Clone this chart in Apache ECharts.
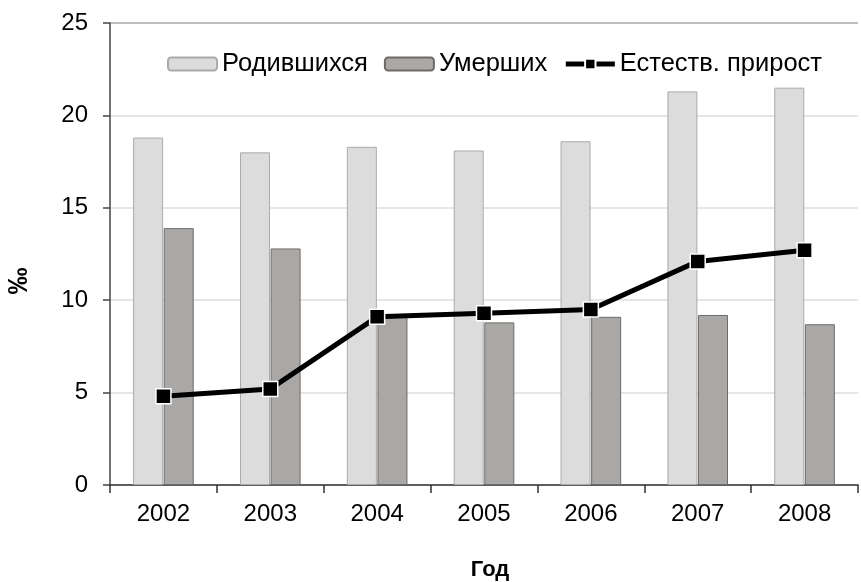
<!DOCTYPE html>
<html>
<head>
<meta charset="utf-8">
<script src="https://cdn.jsdelivr.net/npm/echarts@6/dist/echarts.min.js"></script>
<style>
  html, body { margin: 0; padding: 0; background: #fff; }
  #chart { width: 861px; height: 582px; }
</style>
</head>
<body>
<div id="chart"></div>
<script>
// data
const years = ['2002', '2003', '2004', '2005', '2006', '2007', '2008'];
const births = [18.8, 18.0, 18.3, 18.1, 18.6, 21.3, 21.5];
const deaths = [13.9, 12.8, 9.1, 8.8, 9.1, 9.2, 8.7];
const growth = [4.8, 5.2, 9.1, 9.3, 9.5, 12.1, 12.7];
const yTicks = [0, 5, 10, 15, 20, 25];

const font = '"Liberation Sans", Arial, sans-serif';

const chart = echarts.init(document.getElementById('chart'), null, { renderer: 'canvas' });

chart.setOption({
    animation: false,
    backgroundColor: '#fff',
    grid: { left: 110, right: 3, top: 23, bottom: 97, outerBoundsMode: 'none', containLabel: false },
    legend: {
        left: 167,
        top: 51,
        padding: 0,
        itemWidth: 49,
        itemHeight: 13,
        itemGap: 16,
        textStyle: { fontFamily: font, fontSize: 25.5, color: '#000' },
        data: [
            'Родившихся',
            'Умерших',
            { name: 'Естеств. прирост', lineStyle: { width: 5, color: '#000' } }
        ]
    },
    xAxis: {
        type: 'category',
        data: years,
        name: 'Год',
        nameLocation: 'middle',
        nameGap: 74,
        nameTextStyle: { fontFamily: font, fontSize: 22, fontWeight: 'bold', color: '#000', padding: [0, 0, 0, 12] },
        axisLine: { lineStyle: { color: '#333', width: 1.5 } },
        axisTick: { show: true, length: 8, alignWithLabel: false, lineStyle: { color: '#333', width: 1.5 } },
        axisLabel: { fontFamily: font, fontSize: 24, color: '#000', margin: 17 }
    },
    yAxis: {
        type: 'value',
        min: yTicks[0],
        max: yTicks[yTicks.length - 1],
        interval: 5,
        axisLine: { show: true, lineStyle: { color: '#444', width: 1.5 } },
        axisTick: { show: true, inside: false, length: 7, lineStyle: { color: '#444', width: 1.5 } },
        axisLabel: { fontFamily: font, fontSize: 24, color: '#000', margin: 22 },
        splitLine: {
            show: true,
            lineStyle: {
                color: yTicks.map(v => v === 25 ? '#a8a8a8' : '#dedede'),
                width: 1.5
            }
        }
    },
    graphic: [{
        type: 'text',
        x: 20,
        y: 281,
        rotation: Math.PI / 2,
        style: {
            text: '‰',
            fontFamily: font,
            fontSize: 27,
            fontWeight: 'bold',
            fill: '#000',
            align: 'center',
            verticalAlign: 'middle'
        }
    }],
    series: [
        {
            name: 'Родившихся',
            type: 'bar',
            data: births,
            barWidth: 30,
            barGap: '2%',
            itemStyle: { color: '#dcdcdc', borderColor: '#aaaaaa', borderWidth: 1 }
        },
        {
            name: 'Умерших',
            type: 'bar',
            data: deaths,
            barWidth: 30,
            itemStyle: { color: '#aaa8a6', borderColor: '#6e6a67', borderWidth: 1 }
        },
        {
            name: 'Естеств. прирост',
            type: 'line',
            data: growth,
            symbol: 'rect',
            symbolSize: 15,
            lineStyle: { color: '#000', width: 5 },
            itemStyle: { color: '#000', borderColor: '#fff', borderWidth: 1.5 },
            z: 5
        }
    ]
});
</script>
</body>
</html>
